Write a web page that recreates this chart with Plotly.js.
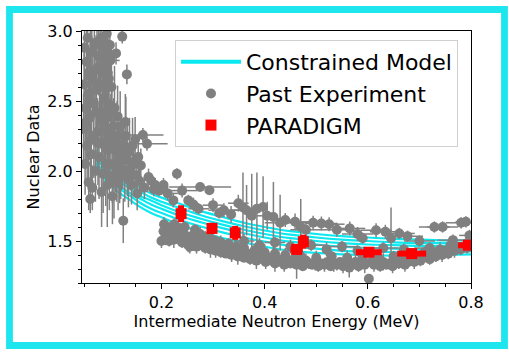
<!DOCTYPE html>
<html>
<head>
<meta charset="utf-8">
<script src="https://cdn.plot.ly/plotly-3.0.1.min.js"></script>
<style>
  html, body { margin: 0; padding: 0; background: #ffffff; }
  #chart { width: 509px; height: 352px; }
</style>
</head>
<body>
<div id="chart"></div>
<script>
// ---- Constrained model curves (energy grid in MeV, one list per curve) ----
const modelX  = [0.072, 0.08, 0.09, 0.10, 0.12, 0.14, 0.16, 0.18, 0.20, 0.24, 0.28, 0.32, 0.36, 0.40, 0.45, 0.50, 0.55, 0.60, 0.65, 0.70, 0.75, 0.80];
const modelA  = [2.15, 2.11, 2.07, 2.03, 1.97, 1.92, 1.88, 1.84, 1.81, 1.76, 1.71, 1.67, 1.63, 1.60, 1.57, 1.55, 1.535, 1.525, 1.515, 1.51, 1.505, 1.505];
const modelB  = [2.12, 2.08, 2.04, 2.00, 1.94, 1.89, 1.85, 1.81, 1.78, 1.73, 1.68, 1.64, 1.605, 1.575, 1.545, 1.525, 1.51, 1.50, 1.49, 1.485, 1.485, 1.485];
const modelC  = [2.10, 2.06, 2.02, 1.98, 1.92, 1.87, 1.82, 1.79, 1.755, 1.70, 1.655, 1.615, 1.58, 1.55, 1.52, 1.50, 1.485, 1.475, 1.47, 1.465, 1.465, 1.47];
const modelD  = [2.07, 2.03, 1.99, 1.95, 1.89, 1.84, 1.80, 1.76, 1.73, 1.675, 1.63, 1.59, 1.555, 1.525, 1.495, 1.475, 1.46, 1.45, 1.445, 1.44, 1.44, 1.445];
const modelE  = [2.05, 2.01, 1.97, 1.93, 1.87, 1.82, 1.77, 1.73, 1.70, 1.645, 1.60, 1.56, 1.525, 1.495, 1.465, 1.445, 1.43, 1.425, 1.42, 1.415, 1.42, 1.425];
const modelF  = [2.02, 1.98, 1.94, 1.90, 1.84, 1.79, 1.74, 1.70, 1.67, 1.61, 1.56, 1.52, 1.49, 1.46, 1.43, 1.415, 1.405, 1.40, 1.395, 1.395, 1.40, 1.405];
const modelCurves = [modelA, modelB, modelC, modelD, modelE, modelF];

// ---- Past experiments: low-energy cluster and upper branch (with energy bins) ----
const pastX = [
  0.049, 0.050, 0.052, 0.053, 0.055, 0.056, 0.058, 0.059, 0.061, 0.062,
  0.064, 0.065, 0.066, 0.068, 0.069, 0.071, 0.072, 0.074, 0.075, 0.076,
  0.078, 0.079, 0.080, 0.082, 0.083, 0.084, 0.086, 0.087, 0.088, 0.089,
  0.090, 0.091, 0.092, 0.093, 0.094, 0.095, 0.096, 0.097, 0.098, 0.099,
  0.101, 0.102, 0.104, 0.105, 0.107, 0.108, 0.110, 0.112, 0.113, 0.115,
  0.117, 0.119, 0.120, 0.122, 0.124, 0.126, 0.127, 0.129, 0.131, 0.133,
  0.134, 0.136, 0.138, 0.140, 0.142, 0.144, 0.146, 0.149, 0.151, 0.153,
  0.155, 0.157, 0.160, 0.164, 0.167, 0.172, 0.175, 0.180, 0.185, 0.188,
  0.195, 0.204, 0.212,
  0.223, 0.230, 0.240, 0.252, 0.262, 0.272, 0.275, 0.293, 0.300, 0.312,
  0.321, 0.335, 0.349, 0.358, 0.365, 0.375, 0.385, 0.397, 0.405, 0.417,
  0.430, 0.440, 0.459, 0.470, 0.480, 0.494, 0.510, 0.525, 0.540, 0.565,
  0.580, 0.590, 0.616, 0.634, 0.645, 0.661, 0.677, 0.700, 0.729, 0.745,
  0.765, 0.781, 0.790, 0.797,
  0.360, 0.390, 0.420, 0.450, 0.490, 0.520, 0.550, 0.580, 0.630, 0.670,
  0.720, 0.760
];
const pastY = [
  2.30, 2.62, 2.05, 2.45, 2.78, 2.18, 2.55, 1.92, 2.38, 2.68,
  2.12, 2.85, 1.88, 2.48, 2.25, 2.72, 2.00, 2.58, 2.92, 2.28,
  2.82, 2.10, 2.62, 2.42, 2.95, 2.20, 2.70, 1.98, 2.88, 2.52,
  2.30, 2.75, 2.05, 2.60, 2.38, 2.85, 2.15, 2.48, 2.66, 1.96,
  2.79, 2.25, 2.42, 2.05, 2.32, 1.92, 2.15, 2.84, 2.02, 2.39,
  2.12, 1.95, 2.32, 2.08, 2.96, 1.645, 2.18, 2.00, 2.25, 2.69,
  2.08, 1.94, 2.14, 2.02, 1.90, 2.18, 2.05, 2.225, 1.97, 1.84,
  2.10, 1.93, 2.04, 2.257, 1.88, 2.195, 1.957, 1.93, 1.87, 1.90,
  1.86, 1.90, 1.84,
  1.79, 1.98, 1.86, 1.79, 1.76, 1.73, 1.886, 1.862, 1.756, 1.70,
  1.72, 1.69, 1.77, 1.74, 1.72, 1.68, 1.73, 1.743, 1.68, 1.672,
  1.63, 1.65, 1.637, 1.60, 1.58, 1.63, 1.625, 1.62, 1.58, 1.59,
  1.55, 1.52, 1.577, 1.566, 1.52, 1.554, 1.534, 1.50, 1.60, 1.60,
  1.506, 1.63, 1.637, 1.54,
  1.50, 1.47, 1.49, 1.46, 1.47, 1.44, 1.46, 1.43, 1.45, 1.44,
  1.45, 1.47
];
const pastXErr = [
  0, 0, 0, 0, 0, 0, 0, 0, 0, 0,
  0, 0, 0, 0, 0, 0, 0, 0, 0, 0,
  0, 0, 0, 0, 0, 0, 0, 0, 0, 0,
  0, 0, 0, 0, 0, 0, 0, 0, 0, 0,
  0.018, 0, 0, 0, 0, 0, 0, 0, 0, 0,
  0, 0, 0, 0, 0, 0, 0, 0, 0, 0,
  0, 0, 0, 0, 0, 0, 0, 0, 0, 0,
  0, 0, 0, 0.04, 0, 0.04, 0, 0, 0.02, 0,
  0, 0, 0.02,
  0, 0, 0.03, 0, 0, 0.02, 0.06, 0, 0.02, 0,
  0.03, 0, 0.02, 0, 0.03, 0, 0.02, 0, 0.02, 0,
  0.03, 0.02, 0.03, 0, 0.03, 0.03, 0.03, 0.03, 0.03, 0.03,
  0.03, 0, 0.03, 0.03, 0, 0.03, 0.03, 0.03, 0.03, 0.03,
  0.03, 0.03, 0.02, 0.02,
  0.02, 0, 0.02, 0, 0.03, 0, 0.03, 0, 0.03, 0,
  0.03, 0
];
const pastYErr = [
  0.25, 0.30, 0.22, 0.28, 0.35, 0.25, 0.30, 0.20, 0.30, 0.32,
  0.26, 0.30, 0.16, 0.28, 0.30, 0.25, 0.22, 0.34, 0.30, 0.24,
  0.28, 0.30, 0.30, 0.26, 0.30, 0.32, 0.22, 0.28, 0.25, 0.30,
  0.35, 0.24, 0.30, 0.35, 0.22, 0.20, 0.26, 0.32, 0.20, 0.24,
  0.12, 0.30, 0.22, 0.28, 0.20, 0.26, 0.22, 0.08, 0.24, 0.22,
  0.20, 0.18, 0.25, 0.22, 0.05, 0.16, 0.18, 0.22, 0.28, 0.07,
  0.26, 0.20, 0.24, 0.16, 0.14, 0.20, 0.12, 0.16, 0.10, 0.12,
  0.14, 0.10, 0.12, 0.05, 0.08, 0.05, 0.06, 0.05, 0.05, 0.05,
  0.04, 0.05, 0.05,
  0.05, 0.04, 0.05, 0.04, 0.05, 0.04, 0.03, 0.03, 0.05, 0.04,
  0.05, 0.06, 0.06, 0.25, 0.18, 0.30, 0.26, 0.22, 0.10, 0.25,
  0.20, 0.05, 0.06, 0.20, 0.05, 0.05, 0.05, 0.05, 0.05, 0.05,
  0.05, 0.04, 0.05, 0.05, 0.22, 0.04, 0.04, 0.04, 0.04, 0.04,
  0.04, 0.04, 0.04, 0.04,
  0.05, 0.05, 0.04, 0.05, 0.04, 0.05, 0.04, 0.04, 0.04, 0.04,
  0.04, 0.04
];

// ---- Past experiments without energy bins: extra low-energy points ----
const clusterX = [
  0.051, 0.054, 0.057, 0.060, 0.062, 0.063, 0.067, 0.070, 0.073, 0.077,
  0.081, 0.084, 0.085, 0.087, 0.090, 0.092, 0.094, 0.095, 0.096, 0.098,
  0.100, 0.103, 0.105, 0.106, 0.109, 0.111, 0.114, 0.116, 0.118, 0.121,
  0.125, 0.130
];
const clusterY = [
  2.88, 2.35, 2.95, 2.50, 1.80, 2.22, 2.65, 2.90, 2.42, 2.20,
  2.75, 1.85, 2.35, 2.60, 2.92, 2.20, 2.98, 1.90, 2.70, 2.30,
  2.90, 2.60, 1.82, 2.20, 2.45, 2.05, 2.25, 1.92, 2.10, 2.00,
  2.12, 2.35
];
const clusterYErr = [
  0.30, 0.30, 0.25, 0.35, 0.10, 0.30, 0.30, 0.30, 0.35, 0.30,
  0.30, 0.25, 0.30, 0.35, 0.30, 0.30, 0.30, 0.30, 0.30, 0.30,
  0.30, 0.30, 0.20, 0.25, 0.30, 0.20, 0.25, 0.20, 0.22, 0.20,
  0.25, 0.20
];

// ---- Past experiments: dense lower branch ----
const denseX = [
  0.200, 0.204, 0.208, 0.212, 0.216, 0.220, 0.224, 0.228, 0.232, 0.236,
  0.240, 0.244, 0.248, 0.252, 0.256, 0.260, 0.264, 0.268, 0.272, 0.276,
  0.280, 0.285, 0.290, 0.295, 0.300, 0.305, 0.310, 0.315, 0.320, 0.325,
  0.330, 0.336, 0.342, 0.348, 0.354, 0.360, 0.366, 0.372, 0.378, 0.384,
  0.390, 0.396, 0.402, 0.408, 0.414, 0.420, 0.426, 0.432, 0.438, 0.444,
  0.450, 0.456, 0.462, 0.468, 0.474, 0.480, 0.486, 0.492, 0.498, 0.504,
  0.510, 0.516, 0.522, 0.528, 0.534, 0.540, 0.546, 0.552, 0.558, 0.564,
  0.570, 0.576, 0.582, 0.588, 0.594, 0.602, 0.606, 0.612, 0.618, 0.624,
  0.630, 0.636, 0.642, 0.648, 0.654, 0.660, 0.666, 0.672, 0.678, 0.684,
  0.690, 0.696, 0.702, 0.708, 0.714, 0.720, 0.726, 0.732, 0.738, 0.744,
  0.750, 0.756, 0.762, 0.768, 0.774, 0.780, 0.786, 0.792, 0.798,
  0.205, 0.215, 0.225, 0.235, 0.245, 0.255, 0.265, 0.275, 0.285, 0.295,
  0.305, 0.315, 0.330, 0.345, 0.360, 0.380, 0.400, 0.420, 0.440, 0.470,
  0.500, 0.530, 0.560, 0.590, 0.620, 0.650, 0.680, 0.710, 0.740, 0.770,
  0.795
];
const denseY = [
  1.50, 1.57, 1.53, 1.60, 1.55, 1.58, 1.51, 1.56, 1.53, 1.59,
  1.49, 1.55, 1.51, 1.47, 1.53, 1.49, 1.52, 1.46, 1.50, 1.47,
  1.51, 1.45, 1.49, 1.44, 1.47, 1.43, 1.46, 1.42, 1.45, 1.41,
  1.44, 1.40, 1.43, 1.39, 1.42, 1.38, 1.41, 1.37, 1.40, 1.36,
  1.39, 1.37, 1.35, 1.38, 1.36, 1.34, 1.37, 1.35, 1.33, 1.36,
  1.34, 1.37, 1.33, 1.35, 1.32, 1.36, 1.34, 1.33, 1.35, 1.32,
  1.34, 1.33, 1.35, 1.32, 1.34, 1.33, 1.35, 1.32, 1.34, 1.31,
  1.33, 1.35, 1.32, 1.34, 1.33, 1.23, 1.35, 1.33, 1.34, 1.32,
  1.35, 1.33, 1.34, 1.32, 1.35, 1.34, 1.36, 1.33, 1.35, 1.37,
  1.35, 1.38, 1.36, 1.38, 1.40, 1.37, 1.41, 1.39, 1.42, 1.40,
  1.43, 1.41, 1.44, 1.43, 1.45, 1.44, 1.46, 1.45, 1.47,
  1.62, 1.50, 1.62, 1.52, 1.60, 1.46, 1.58, 1.55, 1.53, 1.52,
  1.50, 1.49, 1.48, 1.46, 1.45, 1.43, 1.42, 1.41, 1.40, 1.39,
  1.38, 1.39, 1.38, 1.38, 1.38, 1.39, 1.40, 1.42, 1.44, 1.46,
  1.49
];
const denseYErr = [
  0.05, 0.04, 0.06, 0.03, 0.05, 0.04, 0.06, 0.03, 0.05, 0.04,
  0.04, 0.06, 0.03, 0.05, 0.04, 0.06, 0.03, 0.05, 0.04, 0.03,
  0.05, 0.04, 0.03, 0.06, 0.04, 0.05, 0.03, 0.04, 0.06, 0.03,
  0.04, 0.05, 0.03, 0.06, 0.04, 0.03, 0.05, 0.04, 0.03, 0.06,
  0.04, 0.03, 0.05, 0.04, 0.03, 0.06, 0.04, 0.03, 0.05, 0.04,
  0.03, 0.05, 0.10, 0.04, 0.03, 0.05, 0.04, 0.03, 0.06, 0.04,
  0.03, 0.05, 0.04, 0.03, 0.06, 0.04, 0.03, 0.05, 0.04, 0.07,
  0.03, 0.05, 0.04, 0.03, 0.06, 0.03, 0.04, 0.05, 0.03, 0.04,
  0.06, 0.03, 0.04, 0.05, 0.03, 0.04, 0.03, 0.05, 0.04, 0.03,
  0.05, 0.03, 0.04, 0.03, 0.05, 0.04, 0.03, 0.04, 0.03, 0.05,
  0.03, 0.04, 0.03, 0.05, 0.03, 0.04, 0.03, 0.04, 0.03,
  0.05, 0.04, 0.04, 0.05, 0.04, 0.05, 0.04, 0.05, 0.04, 0.05,
  0.04, 0.05, 0.04, 0.05, 0.04, 0.05, 0.06, 0.04, 0.05, 0.04,
  0.05, 0.04, 0.05, 0.04, 0.05, 0.04, 0.05, 0.04, 0.05, 0.04,
  0.04
];

// ---- PARADIGM measurements ----
const paradigmX    = [0.238, 0.298, 0.343, 0.462, 0.475, 0.602, 0.685, 0.795];
const paradigmY    = [1.695, 1.59, 1.558, 1.44, 1.495, 1.42, 1.41, 1.47];
const paradigmXErr = [0.004, 0.008, 0.004, 0.012, 0.006, 0.025, 0.028, 0.02];
const paradigmYErr = [0.06, 0.04, 0.05, 0.03, 0.05, 0.03, 0.025, 0.03];

// ---- Styling ----
const FONT = 'DejaVu Sans, Verdana, sans-serif';
const CYAN = '#0ae8f0';
const GRAY = '#808080';
const RED = '#ff0000';

const traces = [];

// legend entry for the model band
traces.push({
  x: [null], y: [null], type: 'scatter', mode: 'lines',
  name: 'Constrained Model', legendgroup: 'model',
  line: { color: CYAN, width: 4 }, hoverinfo: 'skip'
});
modelCurves.forEach(function (ys) {
  traces.push({
    x: modelX, y: ys, type: 'scatter', mode: 'lines',
    legendgroup: 'model', showlegend: false,
    line: { color: CYAN, width: 2.2, shape: 'spline', smoothing: 1 }
  });
});

traces.push({
  x: pastX, y: pastY, type: 'scatter', mode: 'markers',
  name: 'Past Experiment', legendgroup: 'past',
  marker: { color: GRAY, size: 10 },
  error_x: { type: 'data', array: pastXErr, color: GRAY, thickness: 1.5, width: 0 },
  error_y: { type: 'data', array: pastYErr, color: GRAY, thickness: 1.5, width: 0 }
});
traces.push({
  x: clusterX.concat(denseX), y: clusterY.concat(denseY), type: 'scatter', mode: 'markers',
  name: 'Past Experiment', legendgroup: 'past', showlegend: false,
  marker: { color: GRAY, size: 10 },
  error_y: { type: 'data', array: clusterYErr.concat(denseYErr), color: GRAY, thickness: 1.5, width: 0 }
});

traces.push({
  x: paradigmX, y: paradigmY, type: 'scatter', mode: 'markers',
  name: 'PARADIGM', legendgroup: 'paradigm',
  marker: { color: RED, size: 11, symbol: 'square' },
  error_x: { type: 'data', array: paradigmXErr, color: RED, thickness: 6, width: 0 },
  error_y: { type: 'data', array: paradigmYErr, color: RED, thickness: 6, width: 0 }
});

const axisCommon = {
  showline: true, linecolor: '#000', linewidth: 1, mirror: true,
  showgrid: false, zeroline: false,
  ticks: 'outside', ticklen: 5, tickwidth: 1, tickcolor: '#000',
  tickfont: { family: FONT, size: 16, color: '#000' }
};

const layout = {
  width: 509, height: 352,
  margin: { l: 82, r: 38, t: 31, b: 69, pad: 0 },
  paper_bgcolor: '#ffffff', plot_bgcolor: '#ffffff',
  font: { family: FONT, color: '#000' },
  showlegend: true,
  legend: {
    x: 0.239, y: 0.964, xanchor: 'left', yanchor: 'top',
    bgcolor: 'rgba(255,255,255,0.85)', bordercolor: '#d0d0d0', borderwidth: 1,
    font: { family: FONT, size: 22, color: '#000' },
    itemwidth: 60, tracegroupgap: 4, traceorder: 'normal'
  },
  xaxis: Object.assign({}, axisCommon, {
    range: [0.046, 0.8], tick0: 0, dtick: 0.2, tickformat: '.1f',
    minor: { tick0: 0, dtick: 0.05, ticks: 'outside', ticklen: 3, tickcolor: '#000', showgrid: false },
    title: { text: 'Intermediate Neutron Energy (MeV)', font: { family: FONT, size: 16, color: '#000' }, standoff: 0 }
  }),
  yaxis: Object.assign({}, axisCommon, {
    range: [1.2, 3.0], tick0: 0, dtick: 0.5, tickformat: '.1f',
    minor: { tick0: 0, dtick: 0.1, ticks: 'outside', ticklen: 3, tickcolor: '#000', showgrid: false },
    title: { text: 'Nuclear Data', font: { family: FONT, size: 16, color: '#000' }, standoff: 3 }
  }),
  shapes: [{
    type: 'rect', xref: 'paper', yref: 'paper',
    x0: -0.1864, x1: 1.0861, y0: -0.248, y1: 1.0853,
    line: { color: '#1ee6ee', width: 6.8 }, fillcolor: 'rgba(0,0,0,0)', layer: 'above'
  }]
};

Plotly.newPlot('chart', traces, layout, { displayModeBar: false, staticPlot: true });
</script>
</body>
</html>
